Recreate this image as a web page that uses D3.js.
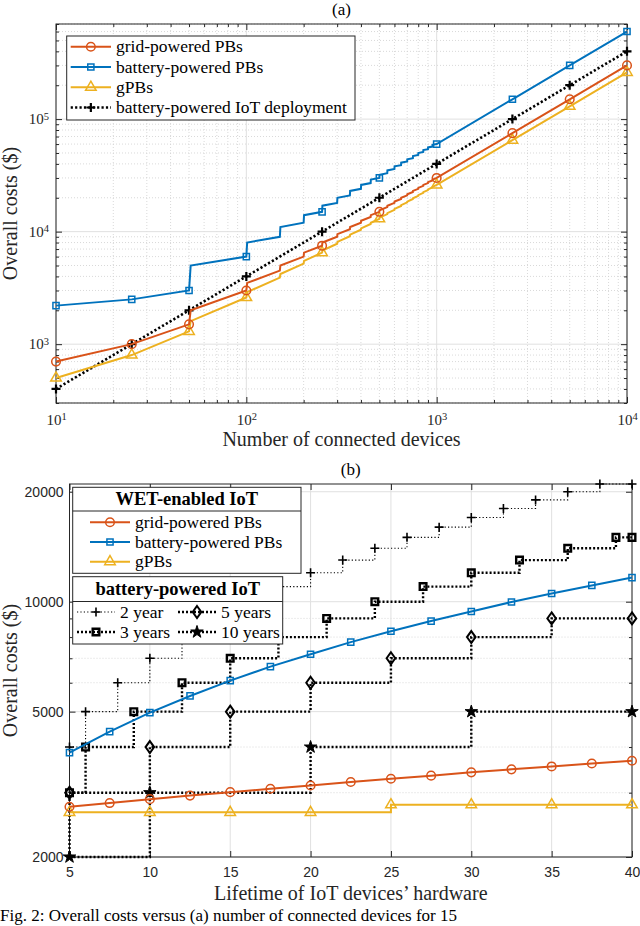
<!DOCTYPE html>
<html>
<head>
<meta charset="utf-8">
<script src="https://cdn.jsdelivr.net/npm/d3@7"></script>
<style>
  body { margin: 0; background: #fff; }
  svg { display: block; }
</style>
</head>
<body>
<div id="chart"></div>
<script>
// (a) overall costs vs number of connected devices (markers)
const devices = [10, 25, 50, 100, 250, 500, 1000, 2500, 5000, 10000]
const gridPBa = [700, 1000, 1500, 3000, 7500, 15000, 30000, 75000, 150000, 300000]
const batteryPBa = [2200, 2500, 3000, 6000, 15000, 30000, 60000, 150000, 300000, 600000]
const gPBa = [500, 800, 1300, 2600, 6500, 13000, 26000, 65000, 130000, 260000]
const iotA = [400, 1000, 2000, 4000, 10000, 20000, 40000, 100000, 200000, 400000]

// jumps where one more PB is needed (cost just before / just after)
const pbSteps = [50, 100, 150, 200, 250, 300, 350, 400, 450, 500, 550, 600, 650, 700, 750, 800, 850, 900, 950]
const gridLow = [1500, 3000, 4500, 6000, 7500, 9000, 10500, 12000, 13500, 15000, 16500, 18000, 19500, 21000, 22500, 24000, 25500, 27000, 28500]
const gridHigh = [2000, 3500, 5000, 6500, 8000, 9500, 11000, 12500, 14000, 15500, 17000, 18500, 20000, 21500, 23000, 24500, 26000, 27500, 29000]
const batteryLow = [3000, 6000, 9000, 12000, 15000, 18000, 21000, 24000, 27000, 30000, 33000, 36000, 39000, 42000, 45000, 48000, 51000, 54000, 57000]
const batteryHigh = [5000, 8000, 11000, 14000, 17000, 20000, 23000, 26000, 29000, 32000, 35000, 38000, 41000, 44000, 47000, 50000, 53000, 56000, 59000]
const gLow = [1300, 2600, 3900, 5200, 6500, 7800, 9100, 10400, 11700, 13000, 14300, 15600, 16900, 18200, 19500, 20800, 22100, 23400, 24700]
const gHigh = [1600, 2900, 4200, 5500, 6800, 8100, 9400, 10700, 12000, 13300, 14600, 15900, 17200, 18500, 19800, 21100, 22400, 23700, 25000]

// (b) overall costs vs lifetime of IoT hardware
const lifePB = [5, 7.5, 10, 12.5, 15, 17.5, 20, 22.5, 25, 27.5, 30, 32.5, 35, 37.5, 40]
const gridPBb = [2745, 2810, 2880, 2945, 3010, 3075, 3140, 3210, 3275, 3340, 3410, 3475, 3540, 3605, 3670]
const batteryPBb = [3860, 4410, 4970, 5520, 6080, 6640, 7180, 7750, 8300, 8850, 9400, 9980, 10530, 11080, 11640]
const lifeG = [5, 10, 15, 20, 25, 30, 35, 40]
const gPBb = [2650, 2650, 2650, 2650, 2780, 2780, 2780, 2780]

const twoYrX = [5, 6, 8, 10, 12, 14, 16, 18, 20, 22, 24, 26, 28, 30, 32, 34, 36, 38, 40]
const twoYrCost = [4000, 5000, 6000, 7000, 8000, 9000, 10000, 11000, 12000, 13000, 14000, 15000, 16000, 17000, 18000, 19000, 20000, 21000, 21000]
const threeYrX = [5, 6, 9, 12, 15, 18, 21, 24, 27, 30, 33, 36, 39, 40]
const threeYrCost = [3000, 4000, 5000, 6000, 7000, 8000, 9000, 10000, 11000, 12000, 13000, 14000, 15000, 15000]
const fiveYrX = [5, 10, 15, 20, 25, 30, 35, 40]
const fiveYrCost = [3000, 4000, 5000, 6000, 7000, 8000, 9000, 9000]
const fiveYrBefore = 2000
const tenYrX = [5, 10, 20, 30, 40]
const tenYrCost = [2000, 3000, 4000, 5000, 5000]

const yTicksB = [2000, 5000, 10000, 20000]
const yMinorB = [3000, 4000, 6000, 7000, 8000, 9000]
const xTicksB = [5, 10, 15, 20, 25, 30, 35, 40]

const orange = "#D95319", blue = "#0072BD", yellow = "#EDB120", ink = "#262626"
const serif = "'Liberation Serif', 'Times New Roman', serif"
const sans = "'Liberation Sans', Arial, sans-serif"

const width = 640, height = 926

const svg = d3.select("#chart").append("svg")
    .attr("width", width)
    .attr("height", height)
    .style("font-family", serif)

const shapes = {
  circle: d3.symbol(d3.symbolCircle, 58)(),
  square: d3.symbol(d3.symbolSquare, 38)(),
  bigsquare: d3.symbol(d3.symbolSquare, 44)(),
  triangle: d3.symbol(d3.symbolTriangle, 48)(),
  star: d3.symbol(d3.symbolStar, 48)(),
  plus: "M-4.5,0H4.5M0,-4.5V4.5",
  diamond: "M0,-6L4.3,0L0,6L-4.3,0Z"
}

const styles = {
  grid: { color: orange, width: 2, shape: "circle", mw: 1.5, fill: "none" },
  battery: { color: blue, width: 2, shape: "square", mw: 1.5, fill: "none" },
  gpb: { color: yellow, width: 2, shape: "triangle", mw: 1.5, fill: "none" },
  iot: { color: "#000", width: 2.6, dash: "2.2,2.2", shape: "plus", mw: 2.2, fill: "none" },
  two: { color: "#000", width: 1.1, dash: "1.2,2.2", shape: "plus", mw: 1.6, fill: "none" },
  three: { color: "#000", width: 2.4, dash: "2,2", shape: "bigsquare", mw: 2.4, fill: "none" },
  five: { color: "#000", width: 2.4, dash: "2,2", shape: "diamond", mw: 2, fill: "none" },
  ten: { color: "#000", width: 2.4, dash: "2,2", shape: "star", mw: 1, fill: "#000" }
}

function drawMarker(g, s, x, y) {
  g.append("path")
      .attr("d", shapes[s.shape])
      .attr("transform", `translate(${x},${y})`)
      .attr("fill", s.fill)
      .attr("stroke", s.color)
      .attr("stroke-width", s.mw)
}

function drawSeries(g, line, pts, marks, s) {
  g.append("path")
      .attr("d", line(pts))
      .attr("fill", "none")
      .attr("stroke", s.color)
      .attr("stroke-width", s.width)
      .attr("stroke-dasharray", s.dash || null)
  marks.forEach(p => drawMarker(g, s, line.xs(p[0]), line.ys(p[1])))
}

function makeLine(x, y, curve) {
  const l = d3.line().x(d => x(d[0])).y(d => y(d[1])).curve(curve || d3.curveLinear)
  l.xs = x
  l.ys = y
  return l
}

function legendEntry(g, s, x0, x1, y, label) {
  g.append("line")
      .attr("x1", x0).attr("x2", x1).attr("y1", y).attr("y2", y)
      .attr("stroke", s.color)
      .attr("stroke-width", s.width)
      .attr("stroke-dasharray", s.dash || null)
  drawMarker(g, s, (x0 + x1) / 2, y)
  g.append("text")
      .attr("x", x1 + 5)
      .attr("y", y)
      .attr("dy", "0.33em")
      .attr("font-size", 17.5)
      .attr("fill", "#000")
      .text(label)
}

function frame(g, x, y) {
  const [x0, x1] = x.range(), [y1, y0] = y.range()
  g.append("rect")
      .attr("x", x0).attr("y", y0)
      .attr("width", x1 - x0).attr("height", y1 - y0)
      .attr("fill", "none")
      .attr("stroke", ink)
      .attr("stroke-width", 1)
}

function gridLines(g, x, y, xv, yv, minor) {
  const [x0, x1] = x.range(), [y1, y0] = y.range()
  const gg = g.append("g")
      .attr("stroke", minor ? "#cfcfcf" : "#e0e0e0")
      .attr("stroke-width", minor ? 0.8 : 1)
      .attr("stroke-dasharray", minor ? "1,2" : null)
  gg.selectAll(".vx").data(xv).join("line")
      .attr("x1", d => x(d)).attr("x2", d => x(d))
      .attr("y1", y0).attr("y2", y1)
  gg.selectAll(".hy").data(yv).join("line")
      .attr("x1", x0).attr("x2", x1)
      .attr("y1", d => y(d)).attr("y2", d => y(d))
}

function ticks(g, x, y, xv, yv, len) {
  const [x0, x1] = x.range(), [y1, y0] = y.range()
  const make = (axis, tr) => g.append("g")
      .attr("transform", tr)
      .call(axis.tickSize(-len).tickSizeOuter(0).tickFormat(""))
      .call(a => a.select(".domain").remove())
      .call(a => a.selectAll("line").attr("stroke", ink))
  make(d3.axisBottom(x).tickValues(xv), `translate(0,${y1})`)
  make(d3.axisTop(x).tickValues(xv), `translate(0,${y0})`)
  make(d3.axisLeft(y).tickValues(yv), `translate(${x0},0)`)
  make(d3.axisRight(y).tickValues(yv), `translate(${x1},0)`)
}

function superscript(sel) {
  sel.selectAll(".tick text")
      .text(null)
      .call(t => t.append("tspan").text("10"))
      .call(t => t.append("tspan")
          .attr("dy", "-0.45em")
          .attr("font-size", "0.7em")
          .text(d => Math.round(Math.log10(d))))
}

function titleAndLabels(g, x, y, title, xlabel, ylabel) {
  const [x0, x1] = x.range(), [y1, y0] = y.range()
  const cx = (x0 + x1) / 2, cy = (y0 + y1) / 2
  g.append("text").attr("x", cx).attr("y", y0 - 9)
      .attr("text-anchor", "middle").attr("font-size", 17).attr("fill", "#000").text(title)
  g.append("text").attr("x", cx).attr("y", y1 + 43)
      .attr("text-anchor", "middle").attr("font-size", 20).attr("fill", ink).text(xlabel)
  g.append("text").attr("transform", `translate(16.5,${cy}) rotate(-90)`)
      .attr("text-anchor", "middle").attr("font-size", 20).attr("fill", ink).text(ylabel)
}

// ---------- (a) ----------
const xa = d3.scaleLog().domain([10, 10000]).range([56, 627])
const ya = d3.scaleLog().domain([300, 700000]).range([403, 24])
const decadesX = [10, 100, 1000, 10000]
const decadesY = [1000, 10000, 100000]
const minorXa = xa.ticks().filter(d => !decadesX.includes(d))
const minorYa = ya.ticks().filter(d => !decadesY.includes(d))

const ga = svg.append("g")
gridLines(ga, xa, ya, minorXa, minorYa, true)
gridLines(ga, xa, ya, decadesX, decadesY, false)
ticks(ga, xa, ya, decadesX, decadesY, 6)
ticks(ga, xa, ya, minorXa, minorYa, 3)

ga.append("g")
    .attr("transform", `translate(0,${ya.range()[0]})`)
    .call(d3.axisBottom(xa).tickValues(decadesX).tickSize(0).tickPadding(11))
    .call(a => a.select(".domain").remove())
    .call(superscript)
    .call(a => a.selectAll("text").attr("font-family", serif).attr("font-size", 15).attr("fill", ink))

ga.append("g")
    .attr("transform", `translate(${xa.range()[0]},0)`)
    .call(d3.axisLeft(ya).tickValues(decadesY).tickSize(0).tickPadding(7))
    .call(a => a.select(".domain").remove())
    .call(superscript)
    .call(a => a.selectAll("text").attr("font-family", serif).attr("font-size", 15).attr("fill", ink))

frame(ga, xa, ya)
titleAndLabels(ga, xa, ya, "(a)", "Number of connected devices", "Overall costs ($)")

const lineA = makeLine(xa, ya)
const zipA = vals => devices.map((d, i) => [d, vals[i]])
const withSteps = (vals, low, high) => zipA(vals)
    .concat(pbSteps.map((s, i) => [s, low[i]]), pbSteps.map((s, i) => [s + 1, high[i]]))
    .sort((a, b) => a[0] - b[0] || a[1] - b[1])

drawSeries(ga, lineA, zipA(iotA), zipA(iotA), styles.iot)
drawSeries(ga, lineA, withSteps(gPBa, gLow, gHigh), zipA(gPBa), styles.gpb)
drawSeries(ga, lineA, withSteps(batteryPBa, batteryLow, batteryHigh), zipA(batteryPBa), styles.battery)
drawSeries(ga, lineA, withSteps(gridPBa, gridLow, gridHigh), zipA(gridPBa), styles.grid)

const legA = ga.append("g")
legA.append("rect")
    .attr("x", 66.7).attr("y", 36).attr("width", 288.3).attr("height", 84)
    .attr("fill", "#fff").attr("stroke", ink).attr("stroke-width", 1)
legendEntry(legA, styles.grid, 70.7, 111, 46.7, "grid-powered PBs")
legendEntry(legA, styles.battery, 70.7, 111, 67, "battery-powered PBs")
legendEntry(legA, styles.gpb, 70.7, 111, 87.3, "gPBs")
legendEntry(legA, styles.iot, 70.7, 111, 107.5, "battery-powered IoT deployment")

// ---------- (b) ----------
const xb = d3.scaleLinear().domain([5, 40]).range([69.5, 632])
const yb = d3.scaleLog().domain([2000, 21000]).range([857, 484])

const gb = svg.append("g")
gridLines(gb, xb, yb, [], yMinorB, true)
gridLines(gb, xb, yb, xTicksB, yTicksB, false)
ticks(gb, xb, yb, xTicksB, yTicksB, 6)
ticks(gb, xb, yb, [], yMinorB, 3)

gb.append("g")
    .attr("transform", `translate(0,${yb.range()[0]})`)
    .call(d3.axisBottom(xb).tickValues(xTicksB).tickSize(0).tickPadding(10))
    .call(a => a.select(".domain").remove())
    .call(a => a.selectAll("text").attr("font-family", sans).attr("font-size", 14).attr("fill", ink))

gb.append("g")
    .attr("transform", `translate(${xb.range()[0]},0)`)
    .call(d3.axisLeft(yb).tickValues(yTicksB).tickSize(0).tickPadding(6).tickFormat(d3.format("d")))
    .call(a => a.select(".domain").remove())
    .call(a => a.selectAll("text").attr("font-family", sans).attr("font-size", 14).attr("fill", ink))

frame(gb, xb, yb)
titleAndLabels(gb, xb, yb, "(b)", "Lifetime of IoT devices\u2019 hardware", "Overall costs ($)")

const lineB = makeLine(xb, yb)
const stepB = makeLine(xb, yb, d3.curveStepAfter)
const zip = (xs, vs) => xs.map((d, i) => [d, vs[i]])

drawSeries(gb, stepB, zip(twoYrX, twoYrCost), zip(twoYrX, twoYrCost), styles.two)
drawSeries(gb, stepB, [[fiveYrX[0], fiveYrBefore]].concat(zip(fiveYrX, fiveYrCost)), zip(fiveYrX, fiveYrCost), styles.five)
drawSeries(gb, stepB, zip(threeYrX, threeYrCost), zip(threeYrX, threeYrCost), styles.three)
drawSeries(gb, stepB, zip(tenYrX, tenYrCost), zip(tenYrX, tenYrCost), styles.ten)
drawSeries(gb, stepB, zip(lifeG, gPBb), zip(lifeG, gPBb), styles.gpb)
drawSeries(gb, lineB, zip(lifePB, batteryPBb), zip(lifePB, batteryPBb), styles.battery)
drawSeries(gb, lineB, zip(lifePB, gridPBb), zip(lifePB, gridPBb), styles.grid)

const legB = gb.append("g")
legB.append("rect")
    .attr("x", 72.7).attr("y", 487.3).attr("width", 228.3).attr("height", 86)
    .attr("fill", "#fff").attr("stroke", ink).attr("stroke-width", 1)
legB.append("line").attr("x1", 72.7).attr("x2", 301).attr("y1", 511).attr("y2", 511)
    .attr("stroke", ink).attr("stroke-width", 1)
legB.append("text").attr("x", 186.8).attr("y", 499).attr("dy", "0.35em")
    .attr("text-anchor", "middle").attr("font-size", 18.5).attr("font-weight", "bold")
    .text("WET-enabled IoT")
legendEntry(legB, styles.grid, 90, 130, 522.3, "grid-powered PBs")
legendEntry(legB, styles.battery, 90, 130, 542, "battery-powered PBs")
legendEntry(legB, styles.gpb, 90, 130, 561.7, "gPBs")

legB.append("rect")
    .attr("x", 72.7).attr("y", 576.7).attr("width", 210).attr("height", 67.3)
    .attr("fill", "#fff").attr("stroke", ink).attr("stroke-width", 1)
legB.append("line").attr("x1", 72.7).attr("x2", 282.7).attr("y1", 601.5).attr("y2", 601.5)
    .attr("stroke", ink).attr("stroke-width", 1)
legB.append("text").attr("x", 177.7).attr("y", 588.5).attr("dy", "0.35em")
    .attr("text-anchor", "middle").attr("font-size", 18.5).attr("font-weight", "bold")
    .text("battery-powered IoT")
legendEntry(legB, styles.two, 77, 115, 612, "2 year")
legendEntry(legB, styles.three, 77, 115, 632, "3 years")
legendEntry(legB, styles.five, 178, 216, 612, "5 years")
legendEntry(legB, styles.ten, 178, 216, 632, "10 years")

// caption line under the figure
svg.append("text")
    .attr("x", 0).attr("y", 921)
    .attr("font-size", 17).attr("fill", "#000")
    .text("Fig. 2: Overall costs versus (a) number of connected devices for 15")
</script>
</body>
</html>
